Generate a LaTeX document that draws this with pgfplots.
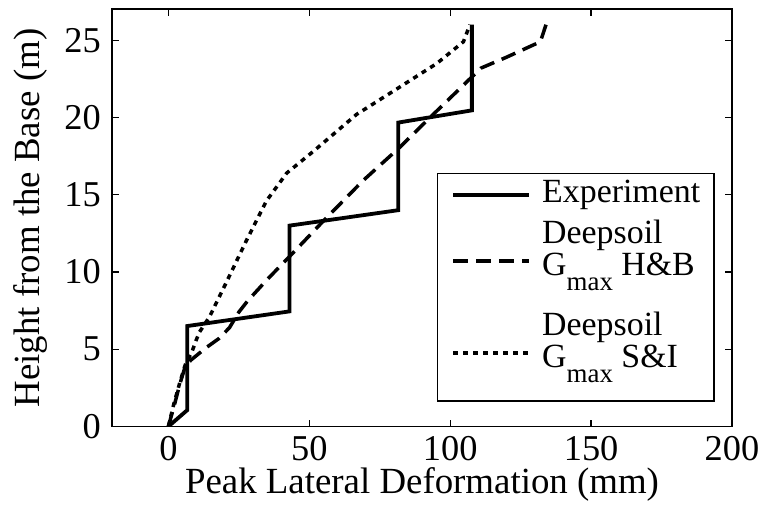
\documentclass[border=0pt]{standalone}
\usepackage{fontspec}
\setmainfont{Liberation Serif}
\usepackage{pgfplots}
\pgfplotsset{compat=1.18}
\newcommand{\tickfont}{\fontsize{36.5}{43}\selectfont}
\newcommand{\labfont}{\fontsize{37}{44}\selectfont}
\newcommand{\legfont}{\fontsize{34}{32}\selectfont}
\newcommand{\Gmax}{G\raisebox{-15bp}{\fontsize{27}{27}\selectfont max}}
\newcommand{\dstrut}{\rule[-26.5bp]{0pt}{1bp}}
\begin{document}
\begin{tikzpicture}
\useasboundingbox (-112bp,-80.5bp) rectangle (649bp,426.5bp);
\begin{axis}[
  scale only axis,
  width=620bp, height=417.2bp,
  xmin=-20, xmax=200, ymin=0, ymax=27,
  xtick={0,50,100,150,200},
  ytick={0,5,10,15,20,25},
  tick align=inside,
  major tick length=6.7bp,
  axis line style={line width=1.6bp},
  tick style={line width=1.2bp, black},
  /pgf/number format/assume math mode=true,
  tick label style={font=\tickfont},
  yticklabel style={anchor=east, inner sep=0pt, xshift=-11bp},
  xticklabel style={anchor=north, inner sep=0pt, yshift=-9.5bp},
  label style={font=\labfont},
  xlabel={Peak Lateral Deformation (mm)},
  xlabel style={at={(rel axis cs:0.5,0)}, anchor=base, inner sep=0pt, yshift=-67bp},
  ylabel={Height from the Base (m)},
  ylabel style={at={(rel axis cs:0,0.5)}, anchor=base, inner sep=0pt, yshift=72bp},
  legend style={at={(rel axis cs:0.9726,0.0587)}, anchor=south east,
    draw=black, line width=1.6bp, font=\legfont,
    inner xsep=14bp, inner ysep=7bp,
    nodes={inner sep=0pt, text depth=},
    row sep=10bp, column sep=11bp},
  legend cell align=left,
  legend image code/.code={\draw[#1] (0bp,0bp) -- (76bp,0bp);},
]
\addplot[black, line width=3.8bp, line join=miter] coordinates {
(0,0) (6.7,1.06) (6.7,6.5) (43,7.45) (43,13.0) (81.6,14.0) (81.6,19.67) (107.7,20.46) (107.7,26)};
\addlegendentry{Experiment}
\addplot[black, line width=3.5bp, dash pattern=on 15bp off 8bp] coordinates {
(0,0) (2,1.3) (4,2.7) (6,3.9) (8,4.3) (13.4,5.1) (18,5.7) (21.7,6.4) (25,7.4) (28,8.1) (35,9.5) (43,11) (55,13.3) (69,15.9) (82,18.05) (94,20.2) (107,22.5) (111,23.2) (120,23.9) (132,24.9) (134,26)};
\addlegendentry{\begin{tabular}[b]{@{}l@{}}Deepsoil\\\Gmax\ H\&B\dstrut\end{tabular}}
\addplot[black, line width=3.5bp, dash pattern=on 5bp off 5bp] coordinates {
(0,0) (2,1.5) (4,2.8) (6,4.0) (8.5,4.9) (9.9,5.6) (11,6.1) (14.6,7.1) (20.5,9.3) (27.6,12) (34.8,14.6) (42,16.4) (51.4,17.8) (66.8,20.2) (79.8,21.7) (95.3,23.5) (104.7,24.9) (107,26)};
\addlegendentry{\begin{tabular}[b]{@{}l@{}}Deepsoil\\\Gmax\ S\&I\dstrut\end{tabular}}
\end{axis}
\end{tikzpicture}
\end{document}
